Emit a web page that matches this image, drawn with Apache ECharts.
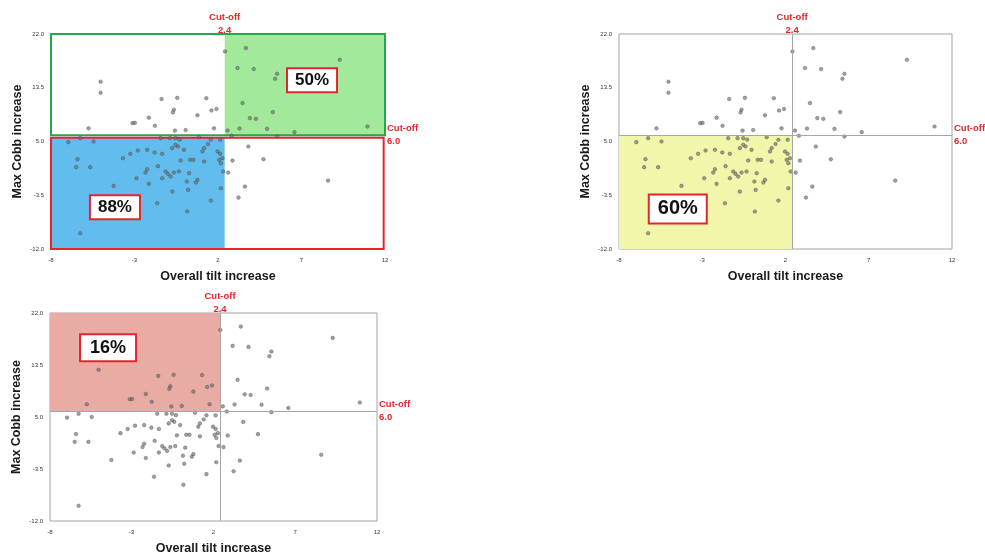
<!DOCTYPE html>
<html>
<head>
<meta charset="utf-8">
<script src="https://cdn.jsdelivr.net/npm/echarts@6/dist/echarts.min.js"></script>
<style>
html,body{margin:0;padding:0;background:#fff;}
#chart{width:985px;height:556px;}
</style>
</head>
<body>
<div id="chart"></div>
<script>
// ---- data ----
const xTicks = [-8, -3, 2, 7, 12];
const yTicks = [-12.0, -3.5, 5.0, 13.5, 22.0];
const cutTilt = 2.4;
const cutCobb = 6.0;
const xTitle = 'Overall tilt increase';
const yTitle = 'Max Cobb increase';
const cutLabelX = 'Cut-off\n2.4';
const cutLabelY = 'Cut-off\n6.0';
const percentLabels = ['50%', '88%', '60%', '16%'];

// points: [overall tilt increase, max Cobb increase]
const upperLeft = [
  [-5.03,14.46],[-5.03,12.72],[-5.75,7.08],[-2.98,7.95],[-3.12,7.9],[-2.14,8.77],
  [-1.78,7.48],[-1.38,11.72],[-0.44,11.9],[-0.64,10.03],[-0.7,9.6],[-0.58,6.72],
  [0.06,6.81],[0.77,9.15],[1.3,11.85],[1.61,9.9],[1.91,10.15],[1.76,7.08]
];
const upperRight = [
  [2.42,19.24],[3.67,19.78],[3.17,16.62],[4.14,16.46],[5.54,15.71],[5.42,14.92],
  [9.29,17.93],[3.47,11.07],[5.28,9.65],[3.91,8.7],[4.27,8.59],[4.94,7.0],
  [3.29,7.05],[2.57,6.73],[6.58,6.48],[10.95,7.37]
];
const lowerRight = [
  [2.81,5.9],[5.54,5.79],[3.82,4.2],[2.87,1.98],[4.72,2.2],[2.61,0.08],
  [3.61,-2.13],[3.23,-3.87],[8.59,-1.18]
];
const lowerLeft = [
  [-6.96,4.9],[-6.25,5.53],[-5.45,5.0],[-1.44,5.53],[-0.88,5.53],[-0.54,5.53],
  [0.87,5.69],[1.57,5.27],[2.13,5.27],[-0.54,4.47],[-0.4,4.21],[-0.74,3.95],
  [-0.04,3.68],[1.07,3.42],[1.17,3.95],[1.97,3.42],[2.13,3.05],[-3.25,3.05],
  [-2.8,3.58],[-2.24,3.68],[-1.8,3.26],[-1.34,3.05],[-3.69,2.36],[-6.41,2.21],
  [-6.49,0.94],[-5.65,0.94],[-0.24,2.0],[0.33,2.1],[0.53,2.1],[1.17,1.84],
  [2.07,2.1],[2.17,1.57],[2.27,2.36],[-2.24,0.62],[-2.34,0.09],[-2.88,-0.8],
  [-2.14,-1.7],[-4.25,-2.02],[-1.34,-0.8],[-1.14,0.25],[-1.0,-0.12],[-0.84,-0.54],
  [-0.64,0.09],[-0.34,0.25],[0.27,-0.01],[0.13,-1.33],[0.21,-2.65],[0.77,-1.07],
  [0.67,-1.49],[-0.74,-2.92],[-1.64,-4.76],[0.16,-6.08],[1.57,-4.34],[2.17,-2.39],
  [-6.25,-9.51],[2.31,0.25],[-1.6,1.1],[1.4,4.6],[-0.3,5.3]
];
const points = upperLeft.concat(upperRight, lowerRight, lowerLeft);

// percentage box anchors (data coords)
const percentAnchors = [[7.63,14.7],[-4.17,-5.4],[-4.47,-5.67],[-4.45,16.3]];

// ---- chart ----
const chart = echarts.init(document.getElementById('chart'));
const FONT = 'Liberation Sans, Arial, sans-serif';
const RED = '#e5252d';
const GREEN = '#22a84a';

const grids = [
  {left: 51, top: 34, width: 334, height: 215},
  {left: 619, top: 34, width: 333, height: 215, show: true, borderColor: '#a3a3a3', borderWidth: 1},
  {left: 50, top: 313, width: 327, height: 213, show: true, borderColor: '#a3a3a3', borderWidth: 1}
];

function xAx(i){
  return {
    gridIndex: i, type: 'value', min: xTicks[0], max: xTicks[xTicks.length-1],
    interval: xTicks[1]-xTicks[0],
    axisLine: {show: false}, axisTick: {show: false}, splitLine: {show: false},
    axisLabel: {fontSize: 6, color: '#333', margin: 8, fontFamily: FONT},
    name: xTitle, nameLocation: 'middle', nameGap: 21,
    nameTextStyle: {fontSize: 12.5, fontWeight: 'bold', color: '#1a1a1a', fontFamily: FONT}
  };
}
function yAx(i){
  return {
    gridIndex: i, type: 'value', min: yTicks[0], max: yTicks[yTicks.length-1],
    interval: yTicks[1]-yTicks[0],
    axisLine: {show: false}, axisTick: {show: false}, splitLine: {show: false},
    axisLabel: {fontSize: 6, color: '#333', margin: 7, fontFamily: FONT,
      formatter: v => v.toFixed(1)},
    name: yTitle, nameLocation: 'middle', nameGap: 27,
    nameTextStyle: {fontSize: 12.5, fontWeight: 'bold', color: '#1a1a1a', fontFamily: FONT}
  };
}

const cutLabel = {
  show: true, position: 'end', color: RED, fontSize: 9.5, fontWeight: 'bold',
  lineHeight: 13, fontFamily: FONT, distance: -3
};
function cutLines(visible){
  const ls = visible ? {color: '#a6a6a6', width: 1, type: 'solid'} : {color: 'rgba(0,0,0,0)', width: 0};
  return {
    silent: true, symbol: 'none', lineStyle: ls,
    data: [
      {xAxis: cutTilt, label: Object.assign({}, cutLabel, {formatter: cutLabelX, align: 'center'})},
      {yAxis: cutCobb, label: Object.assign({}, cutLabel, {formatter: cutLabelY, align: 'left', distance: 2})}
    ]
  };
}
function pctPoint(idx, fs, pad){
  return {
    silent: true, symbol: 'rect', symbolSize: 1, itemStyle: {color: 'rgba(0,0,0,0)'},
    data: [{coord: percentAnchors[idx], value: percentLabels[idx]}],
    label: {show: true, position: 'inside', formatter: percentLabels[idx],
      backgroundColor: '#fff', borderColor: RED, borderWidth: 2, padding: pad,
      fontSize: fs, fontWeight: 'bold', color: '#111', fontFamily: FONT}
  };
}

const xmin = xTicks[0], xmax = xTicks[xTicks.length-1];
const ymin = yTicks[0], ymax = yTicks[yTicks.length-1];

function scatter(i){
  return {
    type: 'scatter', xAxisIndex: i, yAxisIndex: i, z: 3, data: points,
    symbolSize: 3.6, silent: true,
    itemStyle: {color: 'rgba(110,110,110,0.8)', borderColor: 'rgba(55,55,55,0.85)', borderWidth: 0.5}
  };
}

const series = [
  // panel 1 fills
  {type: 'scatter', xAxisIndex: 0, yAxisIndex: 0, data: [], z: 1,
   markArea: {silent: true, data: [
     [{coord: [xmin, ymin], itemStyle: {color: '#62bdee'}}, {coord: [cutTilt, cutCobb - 0.4]}],
     [{coord: [cutTilt, cutCobb], itemStyle: {color: '#a3e99b'}}, {coord: [xmax, ymax]}]
   ]}},
  scatter(0),
  // panel 1 borders + labels
  {type: 'scatter', xAxisIndex: 0, yAxisIndex: 0, data: [], z: 4,
   markArea: {silent: true, data: [
     [{coord: [xmin, cutCobb], itemStyle: {color: 'rgba(0,0,0,0)', borderColor: GREEN, borderWidth: 2}}, {coord: [xmax, ymax]}],
     [{coord: [xmin, ymin], itemStyle: {color: 'rgba(0,0,0,0)', borderColor: RED, borderWidth: 2}}, {coord: [xmax - 0.08, cutCobb - 0.4]}]
   ]},
   markLine: cutLines(false)},
  {type: 'scatter', xAxisIndex: 0, yAxisIndex: 0, data: [], z: 5, markPoint: pctPoint(0, 17, [3, 7, 2, 7])},
  {type: 'scatter', xAxisIndex: 0, yAxisIndex: 0, data: [], z: 5, markPoint: pctPoint(1, 17, [3, 7, 2, 7])},

  // panel 2
  {type: 'scatter', xAxisIndex: 1, yAxisIndex: 1, data: [], z: 1,
   markArea: {silent: true, data: [
     [{coord: [xmin, ymin], itemStyle: {color: '#f1f6ab'}}, {coord: [cutTilt, cutCobb]}]
   ]},
   markLine: cutLines(true)},
  scatter(1),
  {type: 'scatter', xAxisIndex: 1, yAxisIndex: 1, data: [], z: 5, markPoint: pctPoint(2, 20, [4, 8, 3, 8])},

  // panel 3
  {type: 'scatter', xAxisIndex: 2, yAxisIndex: 2, data: [], z: 1,
   markArea: {silent: true, data: [
     [{coord: [xmin, cutCobb], itemStyle: {color: '#e9aca5'}}, {coord: [cutTilt, ymax]}]
   ]},
   markLine: cutLines(true)},
  scatter(2),
  {type: 'scatter', xAxisIndex: 2, yAxisIndex: 2, data: [], z: 5, markPoint: pctPoint(3, 18, [4, 9, 3, 9])}
];

chart.setOption({
  animation: false,
  backgroundColor: '#fff',
  textStyle: {fontFamily: FONT},
  grid: grids,
  xAxis: [xAx(0), xAx(1), xAx(2)],
  yAxis: [yAx(0), yAx(1), yAx(2)],
  series: series
});
</script>
</body>
</html>
